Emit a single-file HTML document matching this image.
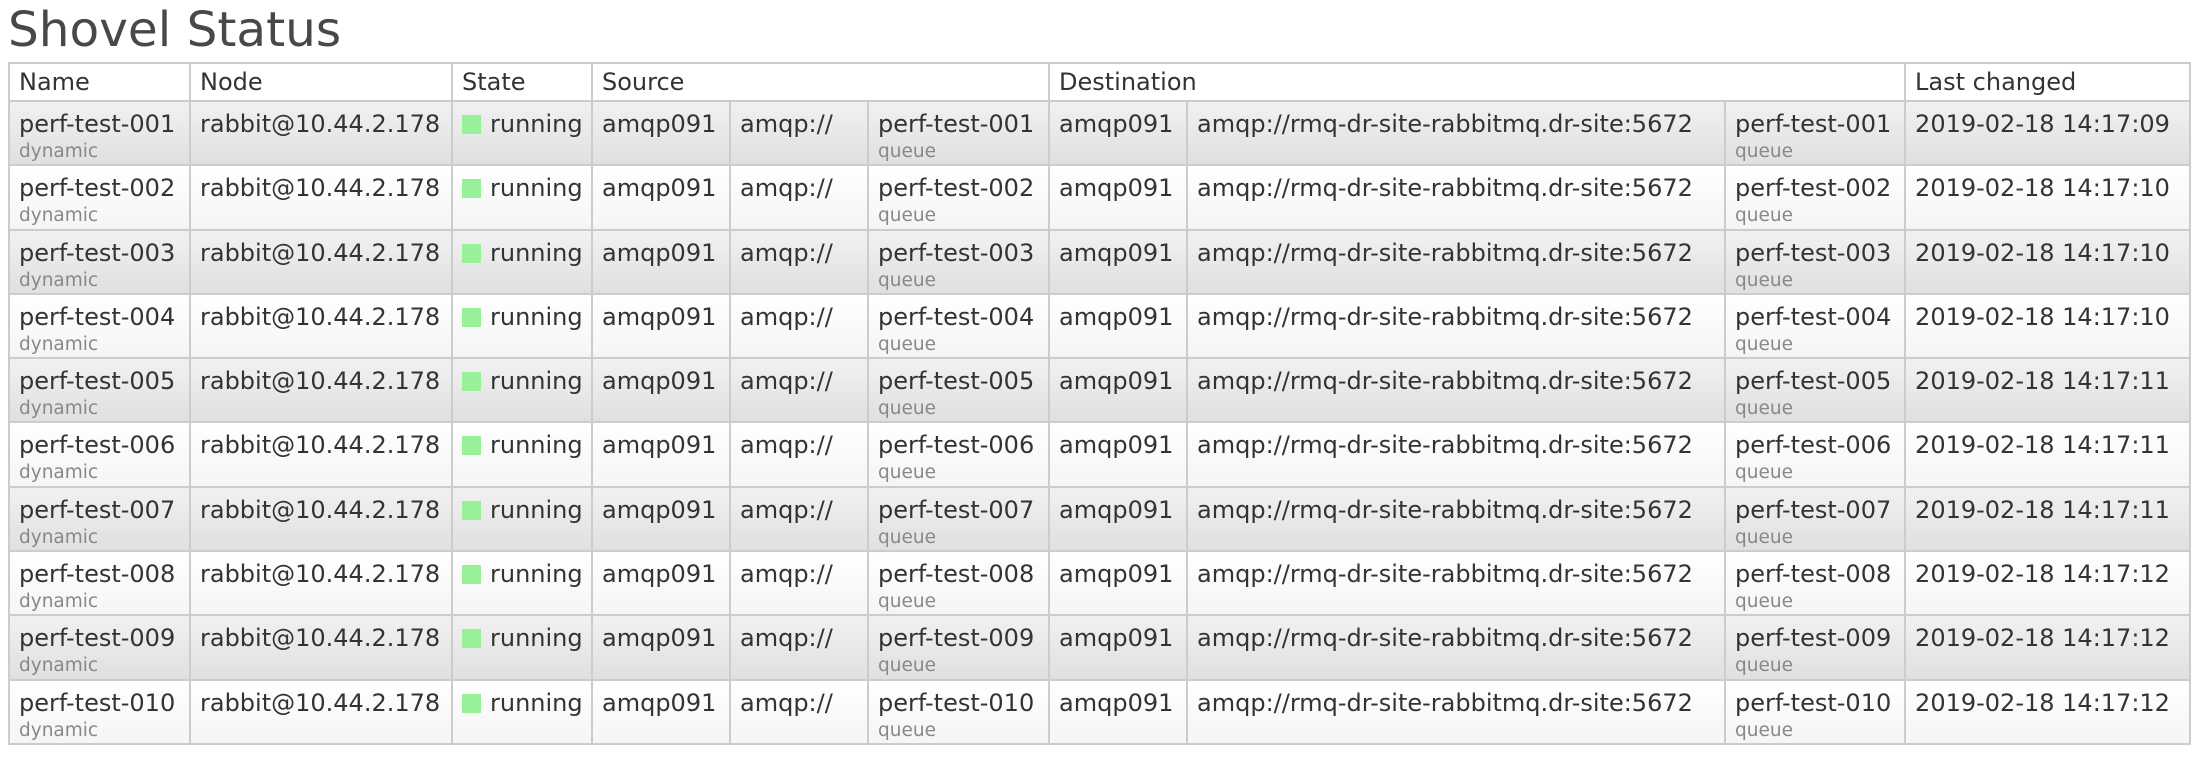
<!DOCTYPE html>
<html><head><meta charset="utf-8"><style>
body{margin:0;background:#fff;width:2204px;height:760px;overflow:hidden;font-family:"DejaVu Sans","Liberation Sans",sans-serif;color:#333}
h1{position:absolute;left:8px;top:2px;margin:0;font-weight:normal;font-size:48.5px;color:#484848;font-family:"DejaVu Sans",sans-serif}
table{position:absolute;left:8px;top:62px;border-collapse:collapse;table-layout:fixed;width:2181px;font-size:24px}
td,th{border:2px solid #ccc;padding:8px 9px 0 9px;vertical-align:top;text-align:left;font-weight:normal;white-space:nowrap;overflow:hidden;line-height:28px}
th{height:32px;padding-top:4px;background:#fff}
tr.r td{height:54.3px}
tr.o td{background:linear-gradient(#f1f1f1,#e0e0e0)}
tr.e td{background:linear-gradient(#fff,#f5f5f5)}
.s{display:block;font-size:18.5px;color:#888;line-height:21px;margin-top:3px}
.g{display:inline-block;width:19px;height:19px;background:#98f098;margin-right:9px;vertical-align:-2px}
</style></head><body>
<h1>Shovel Status</h1>
<table>
<colgroup><col style="width:181px"><col style="width:262px"><col style="width:140px"><col style="width:138px"><col style="width:138px"><col style="width:181px"><col style="width:138px"><col style="width:538px"><col style="width:180px"><col style="width:285px"></colgroup>
<tr><th>Name</th><th>Node</th><th>State</th><th colspan="3">Source</th><th colspan="3">Destination</th><th>Last changed</th></tr>
<tr class="r o"><td>perf-test-001<span class="s">dynamic</span></td><td>rabbit@10.44.2.178</td><td><span class="g"></span>running</td><td>amqp091</td><td>amqp://</td><td>perf-test-001<span class="s">queue</span></td><td>amqp091</td><td>amqp://rmq-dr-site-rabbitmq.dr-site:5672</td><td>perf-test-001<span class="s">queue</span></td><td>2019-02-18 14:17:09</td></tr>
<tr class="r e"><td>perf-test-002<span class="s">dynamic</span></td><td>rabbit@10.44.2.178</td><td><span class="g"></span>running</td><td>amqp091</td><td>amqp://</td><td>perf-test-002<span class="s">queue</span></td><td>amqp091</td><td>amqp://rmq-dr-site-rabbitmq.dr-site:5672</td><td>perf-test-002<span class="s">queue</span></td><td>2019-02-18 14:17:10</td></tr>
<tr class="r o"><td>perf-test-003<span class="s">dynamic</span></td><td>rabbit@10.44.2.178</td><td><span class="g"></span>running</td><td>amqp091</td><td>amqp://</td><td>perf-test-003<span class="s">queue</span></td><td>amqp091</td><td>amqp://rmq-dr-site-rabbitmq.dr-site:5672</td><td>perf-test-003<span class="s">queue</span></td><td>2019-02-18 14:17:10</td></tr>
<tr class="r e"><td>perf-test-004<span class="s">dynamic</span></td><td>rabbit@10.44.2.178</td><td><span class="g"></span>running</td><td>amqp091</td><td>amqp://</td><td>perf-test-004<span class="s">queue</span></td><td>amqp091</td><td>amqp://rmq-dr-site-rabbitmq.dr-site:5672</td><td>perf-test-004<span class="s">queue</span></td><td>2019-02-18 14:17:10</td></tr>
<tr class="r o"><td>perf-test-005<span class="s">dynamic</span></td><td>rabbit@10.44.2.178</td><td><span class="g"></span>running</td><td>amqp091</td><td>amqp://</td><td>perf-test-005<span class="s">queue</span></td><td>amqp091</td><td>amqp://rmq-dr-site-rabbitmq.dr-site:5672</td><td>perf-test-005<span class="s">queue</span></td><td>2019-02-18 14:17:11</td></tr>
<tr class="r e"><td>perf-test-006<span class="s">dynamic</span></td><td>rabbit@10.44.2.178</td><td><span class="g"></span>running</td><td>amqp091</td><td>amqp://</td><td>perf-test-006<span class="s">queue</span></td><td>amqp091</td><td>amqp://rmq-dr-site-rabbitmq.dr-site:5672</td><td>perf-test-006<span class="s">queue</span></td><td>2019-02-18 14:17:11</td></tr>
<tr class="r o"><td>perf-test-007<span class="s">dynamic</span></td><td>rabbit@10.44.2.178</td><td><span class="g"></span>running</td><td>amqp091</td><td>amqp://</td><td>perf-test-007<span class="s">queue</span></td><td>amqp091</td><td>amqp://rmq-dr-site-rabbitmq.dr-site:5672</td><td>perf-test-007<span class="s">queue</span></td><td>2019-02-18 14:17:11</td></tr>
<tr class="r e"><td>perf-test-008<span class="s">dynamic</span></td><td>rabbit@10.44.2.178</td><td><span class="g"></span>running</td><td>amqp091</td><td>amqp://</td><td>perf-test-008<span class="s">queue</span></td><td>amqp091</td><td>amqp://rmq-dr-site-rabbitmq.dr-site:5672</td><td>perf-test-008<span class="s">queue</span></td><td>2019-02-18 14:17:12</td></tr>
<tr class="r o"><td>perf-test-009<span class="s">dynamic</span></td><td>rabbit@10.44.2.178</td><td><span class="g"></span>running</td><td>amqp091</td><td>amqp://</td><td>perf-test-009<span class="s">queue</span></td><td>amqp091</td><td>amqp://rmq-dr-site-rabbitmq.dr-site:5672</td><td>perf-test-009<span class="s">queue</span></td><td>2019-02-18 14:17:12</td></tr>
<tr class="r e"><td>perf-test-010<span class="s">dynamic</span></td><td>rabbit@10.44.2.178</td><td><span class="g"></span>running</td><td>amqp091</td><td>amqp://</td><td>perf-test-010<span class="s">queue</span></td><td>amqp091</td><td>amqp://rmq-dr-site-rabbitmq.dr-site:5672</td><td>perf-test-010<span class="s">queue</span></td><td>2019-02-18 14:17:12</td></tr>
</table>
</body></html>
